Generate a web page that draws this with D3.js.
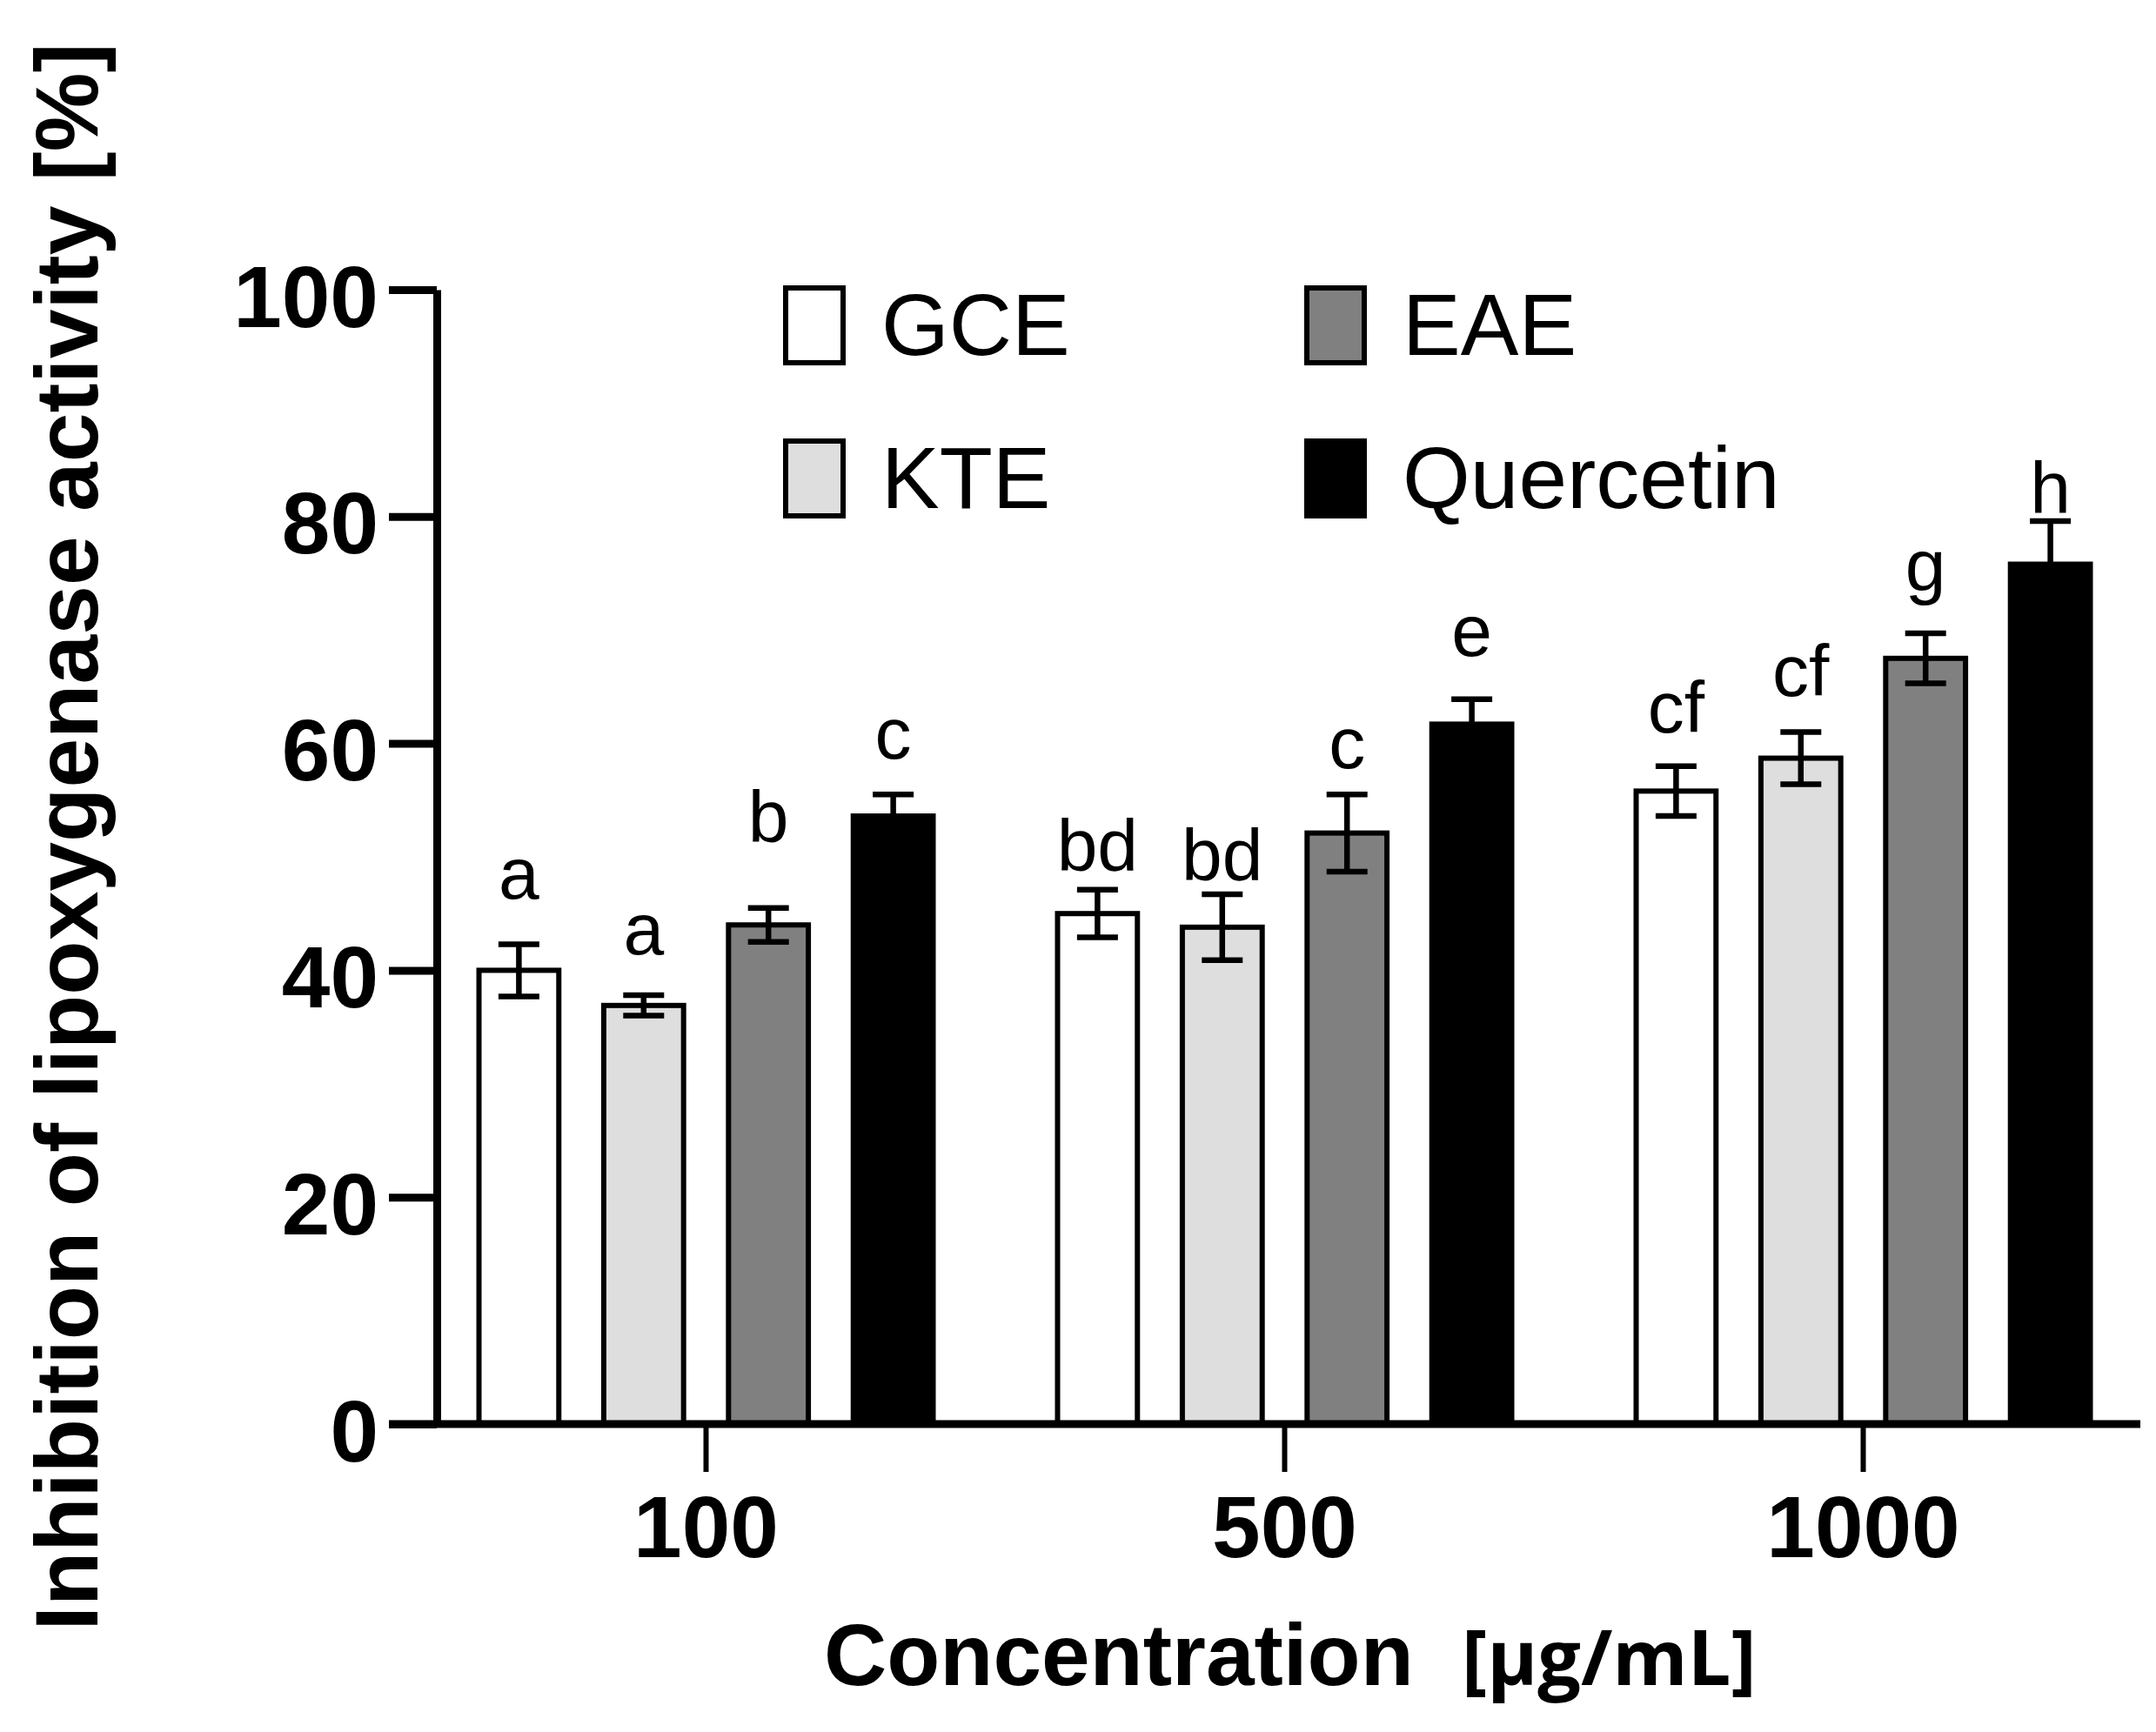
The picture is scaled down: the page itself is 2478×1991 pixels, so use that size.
<!DOCTYPE html>
<html>
<head>
<meta charset="utf-8">
<script src="https://cdn.jsdelivr.net/npm/d3@7"></script>
<style>
  body { margin: 0; background: #fff; }
  svg { display: block; }
</style>
</head>
<body>
<div id="chart"></div>
<script>
// concentrations (x groups) and the four extracts
const concentrations = ["100", "500", "1000"];
const extracts = ["GCE", "KTE", "EAE", "Quercetin"];

// mean inhibition [%] per concentration
const gceMean = [40.0, 45.0, 55.8];
const kteMean = [36.9, 43.8, 58.7];
const eaeMean = [44.0, 52.1, 67.5];
const quercetinMean = [53.6, 61.7, 75.8];

// standard deviations
const gceSd = [2.3, 2.1, 2.2];
const kteSd = [0.9, 2.9, 2.3];
const eaeSd = [1.5, 3.4, 2.2];
const quercetinSd = [1.9, 2.2, 3.8];

// significance letters and the level (in %) they sit at
const gceLetters = ["a", "bd", "cf"];
const kteLetters = ["a", "bd", "cf"];
const eaeLetters = ["b", "c", "g"];
const quercetinLetters = ["c", "e", "h"];
const gceLetterAt = [46.3, 48.8, 61.0];
const kteLetterAt = [41.4, 47.9, 64.2];
const eaeLetterAt = [51.3, 57.8, 73.5];
const quercetinLetterAt = [58.7, 67.7, 80.3];

const yTicks = [0, 20, 40, 60, 80, 100];
const fills = ["#ffffff", "#dedede", "#808080", "#000000"];

const means = [gceMean, kteMean, eaeMean, quercetinMean];
const sds = [gceSd, kteSd, eaeSd, quercetinSd];
const letters = [gceLetters, kteLetters, eaeLetters, quercetinLetters];
const letterAt = [gceLetterAt, kteLetterAt, eaeLetterAt, quercetinLetterAt];

const W = 2478, H = 1991;
const arial = "'Liberation Sans', Arial, Helvetica, sans-serif";

// flatten into rows for the join
const rows = [];
concentrations.forEach((c, ci) => {
  extracts.forEach((e, ei) => {
    rows.push({
      conc: c,
      extract: e,
      fill: fills[ei],
      mean: means[ei][ci],
      sd: sds[ei][ci],
      letter: letters[ei][ci],
      letterAt: letterAt[ei][ci]
    });
  });
});

const svg = d3.select("#chart")
  .append("svg")
  .attr("width", W)
  .attr("height", H)
  .style("background", "#fff");

const y = d3.scaleLinear().domain([0, 100]).range([1637, 333]);

const x0 = d3.scaleBand()
  .domain(concentrations)
  .range([479, 2474])
  .paddingInner(0)
  .paddingOuter(0);

const x1 = d3.scaleBand()
  .domain(extracts)
  .range([-261, 261])
  .paddingInner(0.36)
  .paddingOuter(0);

const barX = d => x0(d.conc) + x0.bandwidth() / 2 + x1(d.extract);
const barMid = d => barX(d) + x1.bandwidth() / 2;

// bars
svg.append("g")
  .selectAll("rect")
  .data(rows)
  .join("rect")
  .attr("x", barX)
  .attr("y", d => y(d.mean))
  .attr("width", x1.bandwidth())
  .attr("height", d => y(0) - y(d.mean))
  .attr("fill", d => d.fill)
  .attr("stroke", "#000")
  .attr("stroke-width", 6);

// error bars
const capW = 47;
const err = svg.append("g")
  .attr("stroke", "#000")
  .attr("stroke-width", 6.5)
  .selectAll("g")
  .data(rows)
  .join("g");

err.append("line")
  .attr("x1", barMid).attr("x2", barMid)
  .attr("y1", d => y(d.mean - d.sd))
  .attr("y2", d => y(d.mean + d.sd));
err.append("line")
  .attr("x1", d => barMid(d) - capW / 2).attr("x2", d => barMid(d) + capW / 2)
  .attr("y1", d => y(d.mean + d.sd)).attr("y2", d => y(d.mean + d.sd));
err.append("line")
  .attr("x1", d => barMid(d) - capW / 2).attr("x2", d => barMid(d) + capW / 2)
  .attr("y1", d => y(d.mean - d.sd)).attr("y2", d => y(d.mean - d.sd));

// significance letters
svg.append("g")
  .selectAll("text")
  .data(rows)
  .join("text")
  .attr("x", barMid)
  .attr("y", d => y(d.letterAt))
  .attr("text-anchor", "middle")
  .style("font-family", arial)
  .style("font-size", "84px")
  .text(d => d.letter);

// y axis
const yAxis = svg.append("g")
  .attr("transform", "translate(502,0)")
  .call(d3.axisLeft(y).tickValues(yTicks).tickSize(55).tickSizeOuter(0).tickPadding(12));
yAxis.select(".domain").attr("stroke-width", 9);
yAxis.selectAll(".tick line").attr("stroke-width", 9);
yAxis.selectAll(".tick text")
  .attr("dy", "0.42em")
  .style("font-family", arial)
  .style("font-size", "100px")
  .style("font-weight", "bold")
  .attr("fill", "#000");

// x axis
const xAxis = svg.append("g")
  .attr("transform", "translate(0,1637)")
  .call(d3.axisBottom(x0).tickSize(55).tickSizeOuter(0).tickPadding(27));
xAxis.select(".domain").remove();
xAxis.append("line")
  .attr("x1", 447).attr("x2", 2460)
  .attr("stroke", "#000")
  .attr("stroke-width", 9);
xAxis.selectAll(".tick line").attr("stroke-width", 6);
xAxis.selectAll(".tick text")
  .style("font-family", arial)
  .style("font-size", "100px")
  .style("font-weight", "bold")
  .attr("fill", "#000");

// axis titles
svg.append("text")
  .attr("transform", "translate(112,962) rotate(-90)")
  .attr("text-anchor", "middle")
  .style("font-family", arial)
  .style("font-size", "102px")
  .style("font-weight", "bold")
  .text("Inhibition of lipoxygenase activity [%]");

svg.append("text")
  .attr("x", 947)
  .attr("y", 1937)
  .style("font-family", arial)
  .style("font-size", "100px")
  .style("font-weight", "bold")
  .text("Concentration");

svg.append("text")
  .attr("x", 1680)
  .attr("y", 1937)
  .style("font-family", "'Open Sans', sans-serif")
  .style("font-size", "88px")
  .style("font-weight", "bold")
  .text("[µg/mL]");

// legend, two columns: GCE, KTE in column one; EAE, Quercetin in column two
const legend = svg.append("g")
  .selectAll("g")
  .data(extracts)
  .join("g")
  .attr("transform", (d, i) => `translate(${i < 2 ? 903 : 1502},${i % 2 === 0 ? 331 : 507})`);

legend.append("rect")
  .attr("width", 66)
  .attr("height", 86)
  .attr("fill", (d, i) => fills[i])
  .attr("stroke", "#000")
  .attr("stroke-width", 6);
legend.append("text")
  .attr("x", 110)
  .attr("y", 77)
  .style("font-family", arial)
  .style("font-size", "100px")
  .text(d => d);
</script>
</body>
</html>
